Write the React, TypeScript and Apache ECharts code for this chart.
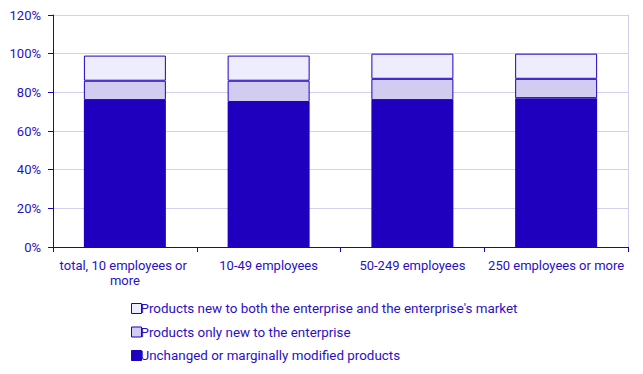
import React, { useEffect, useRef } from "react";
import * as echarts from "echarts";

const categories = [
  "total, 10 employees or more",
  "10-49 employees",
  "50-249 employees",
  "250 employees or more",
];
const unchanged = [76, 75, 76, 77];
const onlyNewToEnterprise = [10, 11, 11, 10];
const newToMarket = [13, 13, 13, 13];
const yTicks = [0, 20, 40, 60, 80, 100, 120];

const seriesNames = [
  "Unchanged or marginally modified products",
  "Products only new to the enterprise",
  "Products new to both the enterprise and the enterprise's market",
];

const DARK = "#1f00bf";
const TEXT = "#2a10c4";

export default function App() {
  const ref = useRef<HTMLDivElement>(null);
  useEffect(() => {
    if (!ref.current) return;
    const chart = echarts.init(ref.current, undefined, { renderer: "svg" });
    chart.setOption({
      animation: false,
      textStyle: { fontFamily: "Roboto", color: TEXT },
      grid: { left: 53, right: 15, top: 15, bottom: 127, containLabel: false },
      legend: {
        orient: "vertical",
        left: 126,
        top: 296,
        itemWidth: 10,
        itemHeight: 10,
        itemGap: 8.5,
        icon: "rect",
        itemStyle: { borderWidth: 1 },
        textStyle: { fontFamily: "Roboto", fontSize: 13.4, lineHeight: 15, color: TEXT, padding: [0, 0, 0, -6] },
        data: [seriesNames[2], seriesNames[1], seriesNames[0]],
      },
      xAxis: {
        type: "category",
        data: categories,
        axisLine: { show: true, lineStyle: { color: DARK, width: 1 } },
        axisTick: { show: true, length: 5, lineStyle: { color: DARK } },
        axisLabel: {
          color: TEXT,
          fontSize: 13,
          fontFamily: "Roboto",
          margin: 11,
          width: 142,
          overflow: "break",
          lineHeight: 15,
          interval: 0,
        },
        splitLine: { show: false },
      },
      yAxis: [
        {
          type: "value",
          min: 0,
          max: 120,
          interval: 20,
          axisLine: { show: true, lineStyle: { color: DARK, width: 1 } },
          axisTick: { show: true, length: 5, lineStyle: { color: DARK } },
          axisLabel: {
            color: TEXT,
            fontSize: 13,
            fontFamily: "Roboto",
            margin: 12,
            formatter: (v: number) => (yTicks.includes(v) ? `${v}%` : ""),
          },
          splitLine: { show: true, lineStyle: { color: "#d3cfee", width: 1 } },
        },
        {
          type: "value",
          position: "right",
          min: 0,
          max: 120,
          interval: 20,
          axisLine: { show: true, lineStyle: { color: "#d3cfee", width: 1 } },
          axisTick: { show: false },
          axisLabel: { show: false },
          splitLine: { show: false },
        },
      ],
      series: [
        {
          name: seriesNames[0],
          type: "bar",
          stack: "total",
          barWidth: 82,
          data: unchanged,
          itemStyle: { color: DARK, borderColor: DARK, borderWidth: 0 },
        },
        {
          name: seriesNames[1],
          type: "bar",
          stack: "total",
          barWidth: 82,
          data: onlyNewToEnterprise,
          itemStyle: { color: "#d1ccf0", borderColor: DARK, borderWidth: 1 },
        },
        {
          name: seriesNames[2],
          type: "bar",
          stack: "total",
          barWidth: 82,
          data: newToMarket,
          itemStyle: { color: "#eeedfd", borderColor: DARK, borderWidth: 1 },
        },
      ],
    });
    return () => chart.dispose();
  }, []);
  return <div ref={ref} style={{ width: 643, height: 374, position: "absolute", left: 0, top: 0 }} />;
}
